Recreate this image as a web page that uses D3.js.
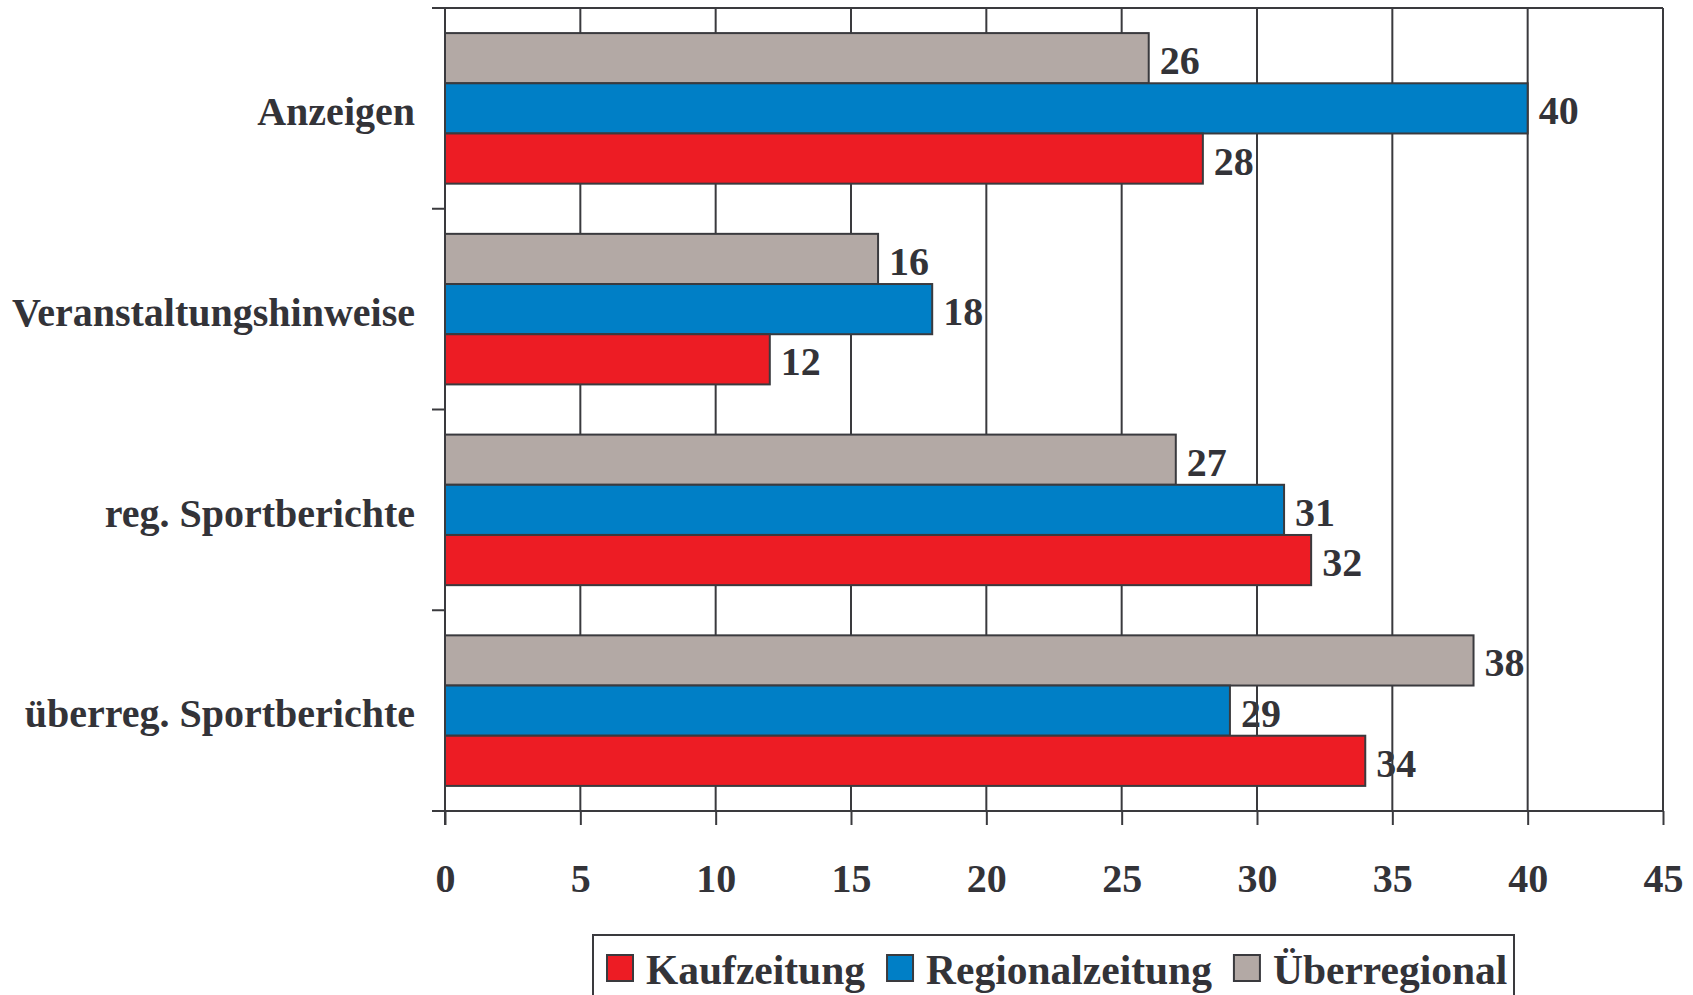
<!DOCTYPE html>
<html>
<head>
  <title>Themen</title>
</head>
<style>
  body, html { margin: 0; padding: 0; background: #fff; }
  #svg { display: block; }
  text { font-family: "Liberation Serif", "Times New Roman", serif; font-weight: bold; fill: #333338; }
</style>
<body>
<svg id="svg" width="1693" height="995"></svg>
<script src="https://d3js.org/d3.v7.min.js"></script>
<script>
  // data
  const categories = ['Anzeigen', 'Veranstaltungshinweise', 'reg. Sportberichte', 'überreg. Sportberichte']
  const series = ['Überregional', 'Regionalzeitung', 'Kaufzeitung'] // top to bottom in each group
  const legendOrder = ['Kaufzeitung', 'Regionalzeitung', 'Überregional']
  const kaufzeitung = [28, 12, 32, 34]
  const regionalzeitung = [40, 18, 31, 29]
  const ueberregional = [26, 16, 27, 38]
  const xTicks = [0, 5, 10, 15, 20, 25, 30, 35, 40, 45]

  const values = {
    'Kaufzeitung': kaufzeitung,
    'Regionalzeitung': regionalzeitung,
    'Überregional': ueberregional
  }
  const colors = {
    'Kaufzeitung': '#ed1c24',
    'Regionalzeitung': '#007fc6',
    'Überregional': '#b3a9a5'
  }

  const rows = []
  categories.forEach((c, i) => {
    series.forEach(s => rows.push({ cat: c, series: s, value: values[s][i] }))
  })

  const svg = d3.select('#svg')
  const plotLeft = 445, plotRight = 1663, plotTop = 8, plotBottom = 811
  const lineColor = '#3a3a3e'

  const x = d3.scaleLinear().domain([0, 45]).range([plotLeft, plotRight])
  const y0 = d3.scaleBand().domain(categories).range([plotTop, plotBottom])
    .paddingInner(0.25).paddingOuter(0.125)
  const y1 = d3.scaleBand().domain(series).range([0, y0.bandwidth()])
  const yBounds = d3.scaleLinear().domain([0, categories.length]).range([plotTop, plotBottom])

  // value labels (drawn under the grid, like the original)
  svg.append('g').selectAll('text')
    .data(rows)
    .join('text')
    .attr('x', d => x(d.value) + 11)
    .attr('y', d => y0(d.cat) + y1(d.series) + y1.bandwidth() / 2)
    .attr('dy', '0.4em')
    .style('font-size', '40px')
    .text(d => d.value)

  // vertical grid
  svg.append('g').selectAll('line')
    .data(xTicks.slice(1))
    .join('line')
    .attr('x1', d => x(d)).attr('x2', d => x(d))
    .attr('y1', plotTop).attr('y2', plotBottom)
    .attr('stroke', lineColor).attr('stroke-width', 2)

  // top frame line
  svg.append('line')
    .attr('x1', plotLeft - 13).attr('x2', plotRight)
    .attr('y1', plotTop).attr('y2', plotTop)
    .attr('stroke', lineColor).attr('stroke-width', 2)

  // bars
  svg.append('g').selectAll('rect')
    .data(rows)
    .join('rect')
    .attr('x', x(0))
    .attr('y', d => y0(d.cat) + y1(d.series))
    .attr('width', d => x(d.value) - x(0))
    .attr('height', y1.bandwidth())
    .attr('fill', d => colors[d.series])
    .attr('stroke', lineColor)
    .attr('stroke-width', 2)

  // left axis line and category boundary ticks
  svg.append('line')
    .attr('x1', plotLeft).attr('x2', plotLeft)
    .attr('y1', plotTop).attr('y2', plotBottom + 14)
    .attr('stroke', lineColor).attr('stroke-width', 2)
  svg.append('g').selectAll('line')
    .data(d3.range(1, categories.length))
    .join('line')
    .attr('x1', plotLeft - 13).attr('x2', plotLeft)
    .attr('y1', d => yBounds(d)).attr('y2', d => yBounds(d))
    .attr('stroke', lineColor).attr('stroke-width', 2)

  // category labels
  const yAxis = svg.append('g')
    .attr('transform', `translate(${plotLeft},0)`)
    .call(d3.axisLeft(y0).tickSize(0).tickPadding(30))
  yAxis.select('.domain').remove()
  yAxis.selectAll('text')
    .attr('dy', '0.42em')
    .style('font-size', '40px')
    .style('font-family', '"Liberation Serif", serif')
    .attr('fill', '#333338')

  // bottom axis
  svg.append('line')
    .attr('x1', plotLeft - 13).attr('x2', plotRight)
    .attr('y1', plotBottom).attr('y2', plotBottom)
    .attr('stroke', lineColor).attr('stroke-width', 2)
  const xAxis = svg.append('g')
    .attr('transform', `translate(0,${plotBottom})`)
    .call(d3.axisBottom(x).tickValues(xTicks).tickSize(14).tickSizeOuter(0).tickPadding(39))
  xAxis.select('.domain').remove()
  xAxis.selectAll('.tick line').attr('stroke', lineColor).attr('stroke-width', 2)
  xAxis.selectAll('text')
    .style('font-size', '40px')
    .style('font-family', '"Liberation Serif", serif')
    .attr('fill', '#333338')

  // legend
  const legend = svg.append('g')
  legend.append('rect')
    .attr('x', 593).attr('y', 935)
    .attr('width', 921).attr('height', 100)
    .attr('fill', '#fff').attr('stroke', lineColor).attr('stroke-width', 2)
  let lx = 607
  legendOrder.forEach(s => {
    legend.append('rect')
      .attr('x', lx).attr('y', 955)
      .attr('width', 26).attr('height', 26)
      .attr('fill', colors[s]).attr('stroke', lineColor).attr('stroke-width', 2)
    const t = legend.append('text')
      .attr('x', lx + 39).attr('y', 984)
      .style('font-size', '41.5px')
      .text(s)
    lx = lx + 39 + t.node().getComputedTextLength() + 22
  })
</script>
</body>
</html>
